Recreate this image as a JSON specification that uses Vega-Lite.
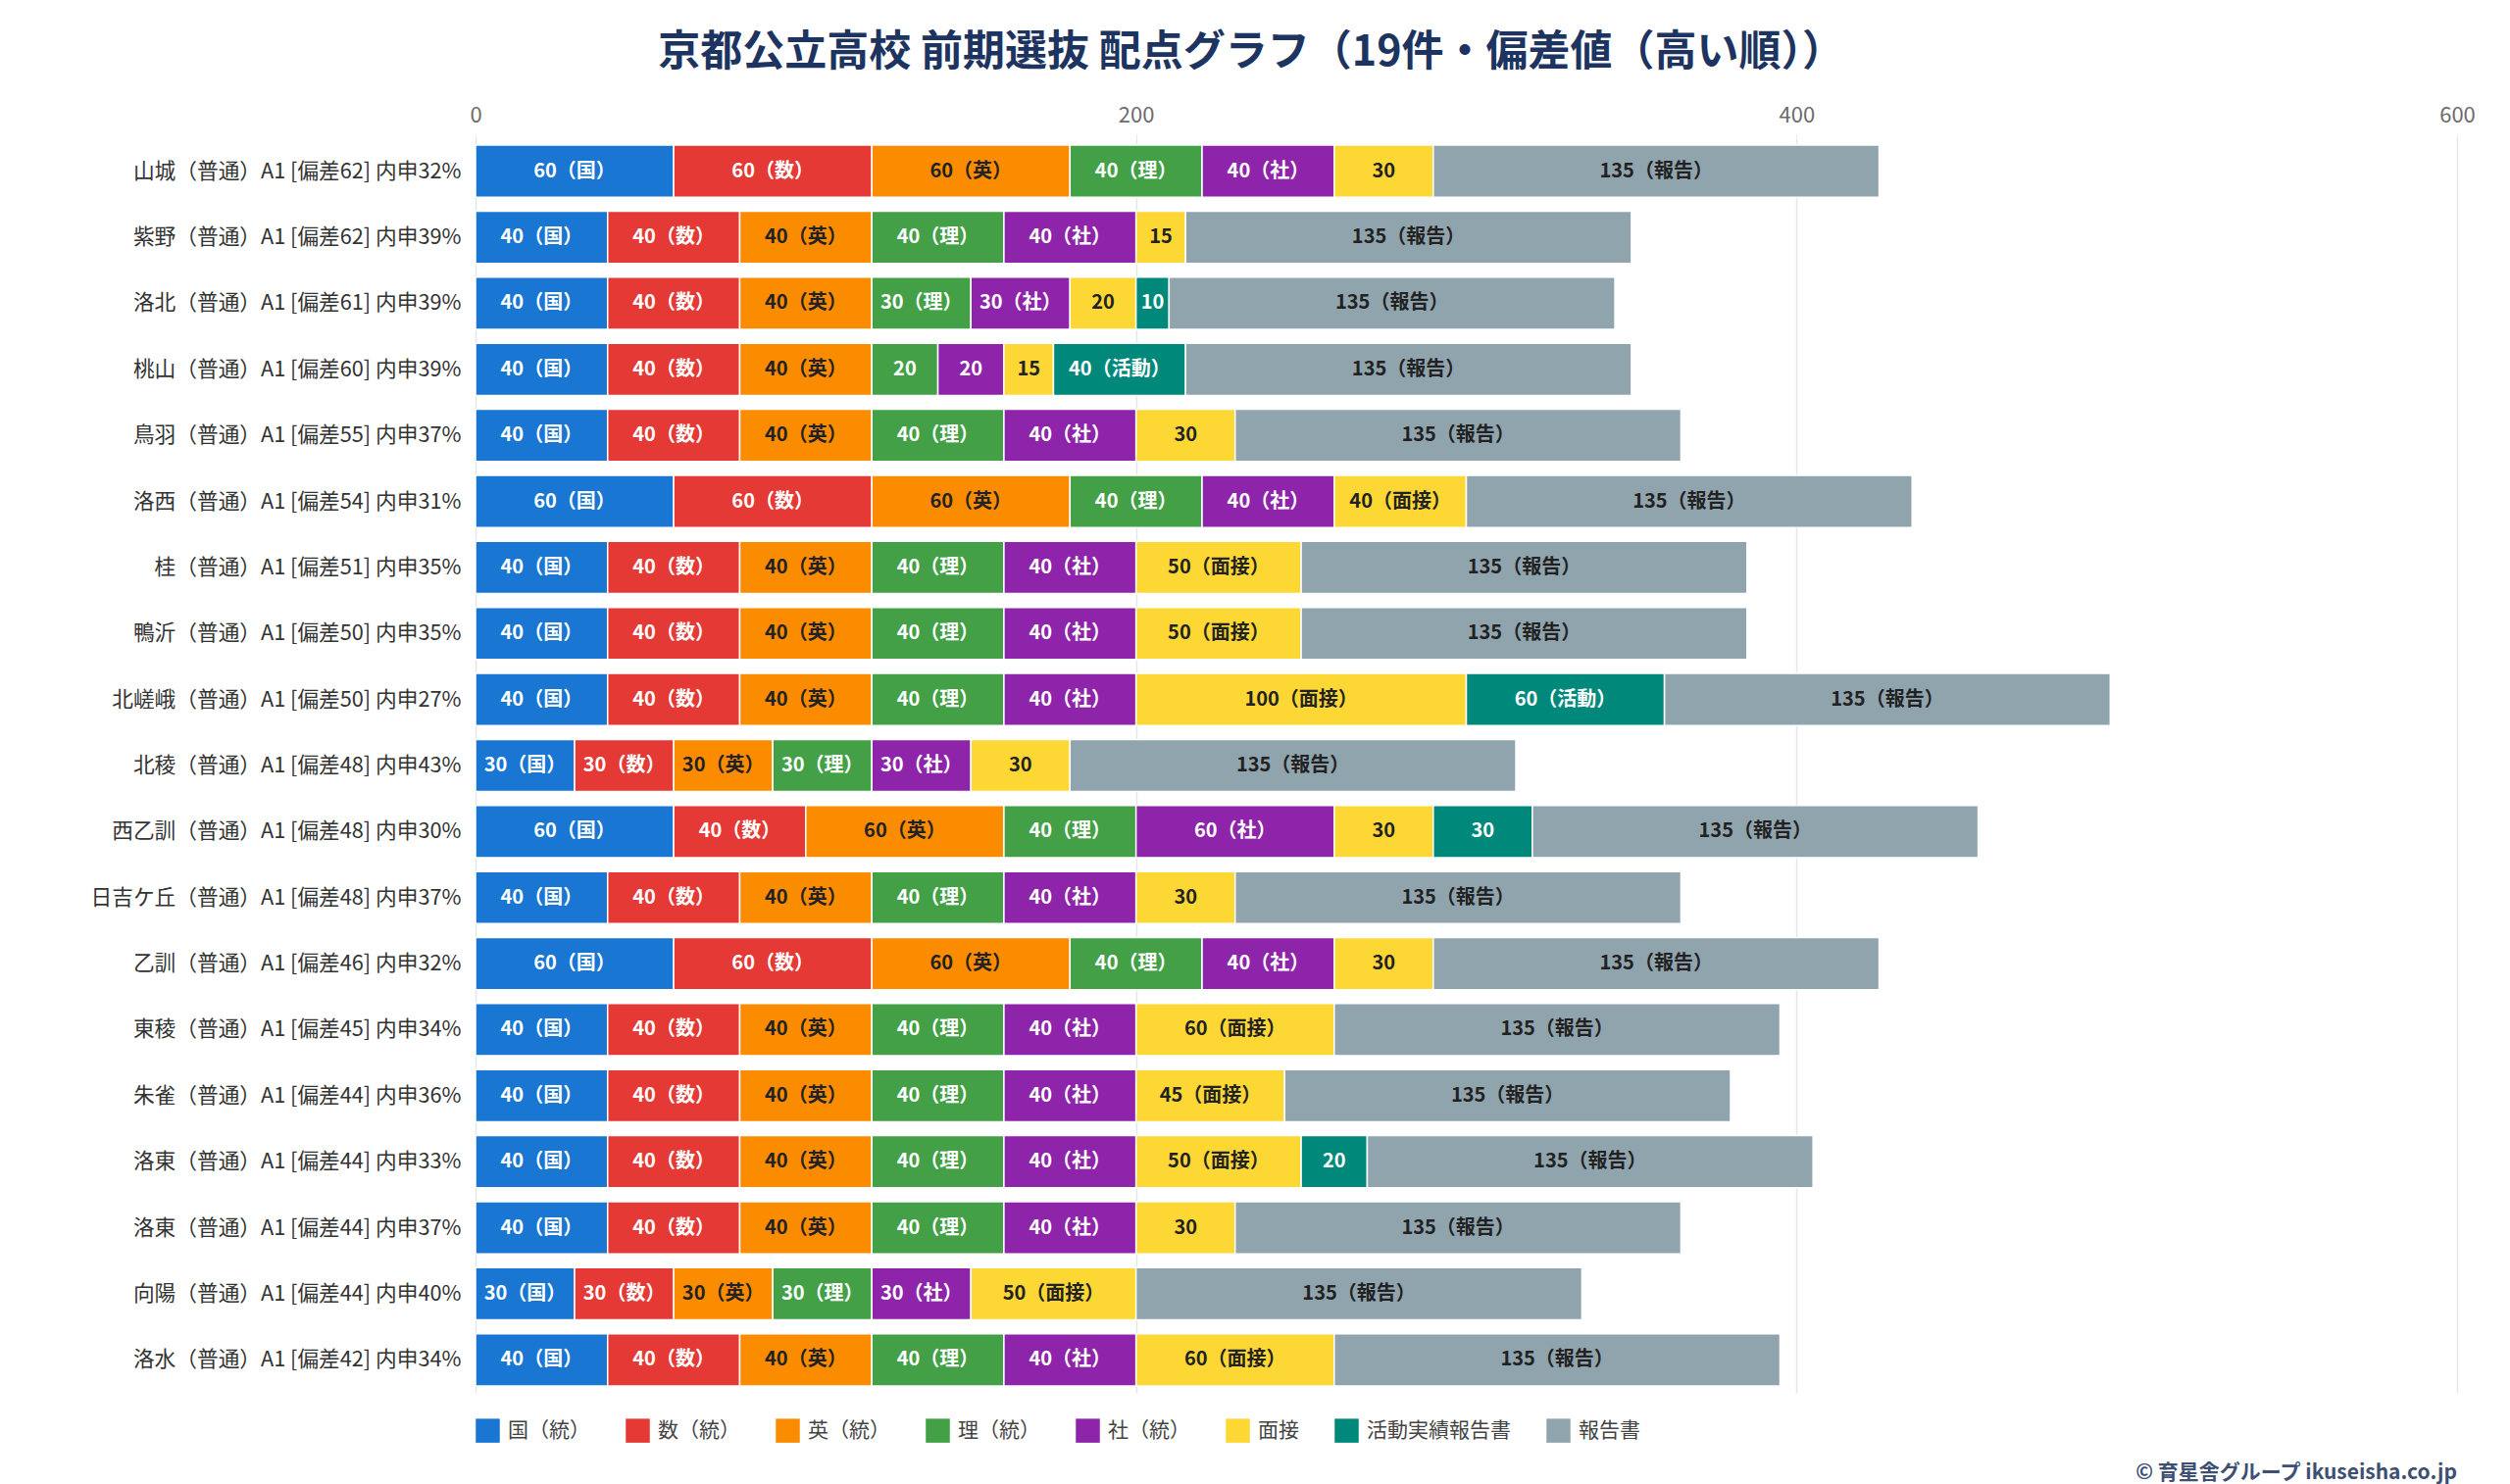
{
  "$schema": "https://vega.github.io/schema/vega-lite/v6.json",
  "background": "white",
  "padding": {"left": 0, "top": 33, "right": 50, "bottom": 5},
  "config": {
    "font": "Noto Sans CJK JP",
    "view": {"stroke": null},
    "concat": {"spacing": 0}
  },
  "title": {
    "text": "京都公立高校 前期選抜 配点グラフ（19件・偏差値（高い順））",
    "fontSize": 43,
    "fontWeight": "bold",
    "color": "#1d3461",
    "anchor": "middle",
    "frame": "bounds",
    "dx": 14,
    "offset": 30
  },
  "resolve": {"legend": {"color": "independent"}},
  "vconcat": [
    {
      "width": 2021,
      "height": 1280,
      "title": {
        "text": "© 育星舎グループ ikuseisha.co.jp",
        "orient": "bottom",
        "anchor": "end",
        "frame": "group",
        "fontSize": 21,
        "fontWeight": "bold",
        "color": "#3d4f73",
        "offset": 20
      },
      "data": {
        "values": [
          {"s": "山城（普通）A1 [偏差62] 内申32%", "c": "国（統）", "o": 1, "v": 60, "t": "60（国）"},
          {"s": "山城（普通）A1 [偏差62] 内申32%", "c": "数（統）", "o": 2, "v": 60, "t": "60（数）"},
          {"s": "山城（普通）A1 [偏差62] 内申32%", "c": "英（統）", "o": 3, "v": 60, "t": "60（英）"},
          {"s": "山城（普通）A1 [偏差62] 内申32%", "c": "理（統）", "o": 4, "v": 40, "t": "40（理）"},
          {"s": "山城（普通）A1 [偏差62] 内申32%", "c": "社（統）", "o": 5, "v": 40, "t": "40（社）"},
          {"s": "山城（普通）A1 [偏差62] 内申32%", "c": "面接", "o": 6, "v": 30, "t": "30"},
          {"s": "山城（普通）A1 [偏差62] 内申32%", "c": "報告書", "o": 8, "v": 135, "t": "135（報告）"},

          {"s": "紫野（普通）A1 [偏差62] 内申39%", "c": "国（統）", "o": 1, "v": 40, "t": "40（国）"},
          {"s": "紫野（普通）A1 [偏差62] 内申39%", "c": "数（統）", "o": 2, "v": 40, "t": "40（数）"},
          {"s": "紫野（普通）A1 [偏差62] 内申39%", "c": "英（統）", "o": 3, "v": 40, "t": "40（英）"},
          {"s": "紫野（普通）A1 [偏差62] 内申39%", "c": "理（統）", "o": 4, "v": 40, "t": "40（理）"},
          {"s": "紫野（普通）A1 [偏差62] 内申39%", "c": "社（統）", "o": 5, "v": 40, "t": "40（社）"},
          {"s": "紫野（普通）A1 [偏差62] 内申39%", "c": "面接", "o": 6, "v": 15, "t": "15"},
          {"s": "紫野（普通）A1 [偏差62] 内申39%", "c": "報告書", "o": 8, "v": 135, "t": "135（報告）"},

          {"s": "洛北（普通）A1 [偏差61] 内申39%", "c": "国（統）", "o": 1, "v": 40, "t": "40（国）"},
          {"s": "洛北（普通）A1 [偏差61] 内申39%", "c": "数（統）", "o": 2, "v": 40, "t": "40（数）"},
          {"s": "洛北（普通）A1 [偏差61] 内申39%", "c": "英（統）", "o": 3, "v": 40, "t": "40（英）"},
          {"s": "洛北（普通）A1 [偏差61] 内申39%", "c": "理（統）", "o": 4, "v": 30, "t": "30（理）"},
          {"s": "洛北（普通）A1 [偏差61] 内申39%", "c": "社（統）", "o": 5, "v": 30, "t": "30（社）"},
          {"s": "洛北（普通）A1 [偏差61] 内申39%", "c": "面接", "o": 6, "v": 20, "t": "20"},
          {"s": "洛北（普通）A1 [偏差61] 内申39%", "c": "活動実績報告書", "o": 7, "v": 10, "t": "10"},
          {"s": "洛北（普通）A1 [偏差61] 内申39%", "c": "報告書", "o": 8, "v": 135, "t": "135（報告）"},

          {"s": "桃山（普通）A1 [偏差60] 内申39%", "c": "国（統）", "o": 1, "v": 40, "t": "40（国）"},
          {"s": "桃山（普通）A1 [偏差60] 内申39%", "c": "数（統）", "o": 2, "v": 40, "t": "40（数）"},
          {"s": "桃山（普通）A1 [偏差60] 内申39%", "c": "英（統）", "o": 3, "v": 40, "t": "40（英）"},
          {"s": "桃山（普通）A1 [偏差60] 内申39%", "c": "理（統）", "o": 4, "v": 20, "t": "20"},
          {"s": "桃山（普通）A1 [偏差60] 内申39%", "c": "社（統）", "o": 5, "v": 20, "t": "20"},
          {"s": "桃山（普通）A1 [偏差60] 内申39%", "c": "面接", "o": 6, "v": 15, "t": "15"},
          {"s": "桃山（普通）A1 [偏差60] 内申39%", "c": "活動実績報告書", "o": 7, "v": 40, "t": "40（活動）"},
          {"s": "桃山（普通）A1 [偏差60] 内申39%", "c": "報告書", "o": 8, "v": 135, "t": "135（報告）"},

          {"s": "鳥羽（普通）A1 [偏差55] 内申37%", "c": "国（統）", "o": 1, "v": 40, "t": "40（国）"},
          {"s": "鳥羽（普通）A1 [偏差55] 内申37%", "c": "数（統）", "o": 2, "v": 40, "t": "40（数）"},
          {"s": "鳥羽（普通）A1 [偏差55] 内申37%", "c": "英（統）", "o": 3, "v": 40, "t": "40（英）"},
          {"s": "鳥羽（普通）A1 [偏差55] 内申37%", "c": "理（統）", "o": 4, "v": 40, "t": "40（理）"},
          {"s": "鳥羽（普通）A1 [偏差55] 内申37%", "c": "社（統）", "o": 5, "v": 40, "t": "40（社）"},
          {"s": "鳥羽（普通）A1 [偏差55] 内申37%", "c": "面接", "o": 6, "v": 30, "t": "30"},
          {"s": "鳥羽（普通）A1 [偏差55] 内申37%", "c": "報告書", "o": 8, "v": 135, "t": "135（報告）"},

          {"s": "洛西（普通）A1 [偏差54] 内申31%", "c": "国（統）", "o": 1, "v": 60, "t": "60（国）"},
          {"s": "洛西（普通）A1 [偏差54] 内申31%", "c": "数（統）", "o": 2, "v": 60, "t": "60（数）"},
          {"s": "洛西（普通）A1 [偏差54] 内申31%", "c": "英（統）", "o": 3, "v": 60, "t": "60（英）"},
          {"s": "洛西（普通）A1 [偏差54] 内申31%", "c": "理（統）", "o": 4, "v": 40, "t": "40（理）"},
          {"s": "洛西（普通）A1 [偏差54] 内申31%", "c": "社（統）", "o": 5, "v": 40, "t": "40（社）"},
          {"s": "洛西（普通）A1 [偏差54] 内申31%", "c": "面接", "o": 6, "v": 40, "t": "40（面接）"},
          {"s": "洛西（普通）A1 [偏差54] 内申31%", "c": "報告書", "o": 8, "v": 135, "t": "135（報告）"},

          {"s": "桂（普通）A1 [偏差51] 内申35%", "c": "国（統）", "o": 1, "v": 40, "t": "40（国）"},
          {"s": "桂（普通）A1 [偏差51] 内申35%", "c": "数（統）", "o": 2, "v": 40, "t": "40（数）"},
          {"s": "桂（普通）A1 [偏差51] 内申35%", "c": "英（統）", "o": 3, "v": 40, "t": "40（英）"},
          {"s": "桂（普通）A1 [偏差51] 内申35%", "c": "理（統）", "o": 4, "v": 40, "t": "40（理）"},
          {"s": "桂（普通）A1 [偏差51] 内申35%", "c": "社（統）", "o": 5, "v": 40, "t": "40（社）"},
          {"s": "桂（普通）A1 [偏差51] 内申35%", "c": "面接", "o": 6, "v": 50, "t": "50（面接）"},
          {"s": "桂（普通）A1 [偏差51] 内申35%", "c": "報告書", "o": 8, "v": 135, "t": "135（報告）"},

          {"s": "鴨沂（普通）A1 [偏差50] 内申35%", "c": "国（統）", "o": 1, "v": 40, "t": "40（国）"},
          {"s": "鴨沂（普通）A1 [偏差50] 内申35%", "c": "数（統）", "o": 2, "v": 40, "t": "40（数）"},
          {"s": "鴨沂（普通）A1 [偏差50] 内申35%", "c": "英（統）", "o": 3, "v": 40, "t": "40（英）"},
          {"s": "鴨沂（普通）A1 [偏差50] 内申35%", "c": "理（統）", "o": 4, "v": 40, "t": "40（理）"},
          {"s": "鴨沂（普通）A1 [偏差50] 内申35%", "c": "社（統）", "o": 5, "v": 40, "t": "40（社）"},
          {"s": "鴨沂（普通）A1 [偏差50] 内申35%", "c": "面接", "o": 6, "v": 50, "t": "50（面接）"},
          {"s": "鴨沂（普通）A1 [偏差50] 内申35%", "c": "報告書", "o": 8, "v": 135, "t": "135（報告）"},

          {"s": "北嵯峨（普通）A1 [偏差50] 内申27%", "c": "国（統）", "o": 1, "v": 40, "t": "40（国）"},
          {"s": "北嵯峨（普通）A1 [偏差50] 内申27%", "c": "数（統）", "o": 2, "v": 40, "t": "40（数）"},
          {"s": "北嵯峨（普通）A1 [偏差50] 内申27%", "c": "英（統）", "o": 3, "v": 40, "t": "40（英）"},
          {"s": "北嵯峨（普通）A1 [偏差50] 内申27%", "c": "理（統）", "o": 4, "v": 40, "t": "40（理）"},
          {"s": "北嵯峨（普通）A1 [偏差50] 内申27%", "c": "社（統）", "o": 5, "v": 40, "t": "40（社）"},
          {"s": "北嵯峨（普通）A1 [偏差50] 内申27%", "c": "面接", "o": 6, "v": 100, "t": "100（面接）"},
          {"s": "北嵯峨（普通）A1 [偏差50] 内申27%", "c": "活動実績報告書", "o": 7, "v": 60, "t": "60（活動）"},
          {"s": "北嵯峨（普通）A1 [偏差50] 内申27%", "c": "報告書", "o": 8, "v": 135, "t": "135（報告）"},

          {"s": "北稜（普通）A1 [偏差48] 内申43%", "c": "国（統）", "o": 1, "v": 30, "t": "30（国）"},
          {"s": "北稜（普通）A1 [偏差48] 内申43%", "c": "数（統）", "o": 2, "v": 30, "t": "30（数）"},
          {"s": "北稜（普通）A1 [偏差48] 内申43%", "c": "英（統）", "o": 3, "v": 30, "t": "30（英）"},
          {"s": "北稜（普通）A1 [偏差48] 内申43%", "c": "理（統）", "o": 4, "v": 30, "t": "30（理）"},
          {"s": "北稜（普通）A1 [偏差48] 内申43%", "c": "社（統）", "o": 5, "v": 30, "t": "30（社）"},
          {"s": "北稜（普通）A1 [偏差48] 内申43%", "c": "面接", "o": 6, "v": 30, "t": "30"},
          {"s": "北稜（普通）A1 [偏差48] 内申43%", "c": "報告書", "o": 8, "v": 135, "t": "135（報告）"},

          {"s": "西乙訓（普通）A1 [偏差48] 内申30%", "c": "国（統）", "o": 1, "v": 60, "t": "60（国）"},
          {"s": "西乙訓（普通）A1 [偏差48] 内申30%", "c": "数（統）", "o": 2, "v": 40, "t": "40（数）"},
          {"s": "西乙訓（普通）A1 [偏差48] 内申30%", "c": "英（統）", "o": 3, "v": 60, "t": "60（英）"},
          {"s": "西乙訓（普通）A1 [偏差48] 内申30%", "c": "理（統）", "o": 4, "v": 40, "t": "40（理）"},
          {"s": "西乙訓（普通）A1 [偏差48] 内申30%", "c": "社（統）", "o": 5, "v": 60, "t": "60（社）"},
          {"s": "西乙訓（普通）A1 [偏差48] 内申30%", "c": "面接", "o": 6, "v": 30, "t": "30"},
          {"s": "西乙訓（普通）A1 [偏差48] 内申30%", "c": "活動実績報告書", "o": 7, "v": 30, "t": "30"},
          {"s": "西乙訓（普通）A1 [偏差48] 内申30%", "c": "報告書", "o": 8, "v": 135, "t": "135（報告）"},

          {"s": "日吉ケ丘（普通）A1 [偏差48] 内申37%", "c": "国（統）", "o": 1, "v": 40, "t": "40（国）"},
          {"s": "日吉ケ丘（普通）A1 [偏差48] 内申37%", "c": "数（統）", "o": 2, "v": 40, "t": "40（数）"},
          {"s": "日吉ケ丘（普通）A1 [偏差48] 内申37%", "c": "英（統）", "o": 3, "v": 40, "t": "40（英）"},
          {"s": "日吉ケ丘（普通）A1 [偏差48] 内申37%", "c": "理（統）", "o": 4, "v": 40, "t": "40（理）"},
          {"s": "日吉ケ丘（普通）A1 [偏差48] 内申37%", "c": "社（統）", "o": 5, "v": 40, "t": "40（社）"},
          {"s": "日吉ケ丘（普通）A1 [偏差48] 内申37%", "c": "面接", "o": 6, "v": 30, "t": "30"},
          {"s": "日吉ケ丘（普通）A1 [偏差48] 内申37%", "c": "報告書", "o": 8, "v": 135, "t": "135（報告）"},

          {"s": "乙訓（普通）A1 [偏差46] 内申32%", "c": "国（統）", "o": 1, "v": 60, "t": "60（国）"},
          {"s": "乙訓（普通）A1 [偏差46] 内申32%", "c": "数（統）", "o": 2, "v": 60, "t": "60（数）"},
          {"s": "乙訓（普通）A1 [偏差46] 内申32%", "c": "英（統）", "o": 3, "v": 60, "t": "60（英）"},
          {"s": "乙訓（普通）A1 [偏差46] 内申32%", "c": "理（統）", "o": 4, "v": 40, "t": "40（理）"},
          {"s": "乙訓（普通）A1 [偏差46] 内申32%", "c": "社（統）", "o": 5, "v": 40, "t": "40（社）"},
          {"s": "乙訓（普通）A1 [偏差46] 内申32%", "c": "面接", "o": 6, "v": 30, "t": "30"},
          {"s": "乙訓（普通）A1 [偏差46] 内申32%", "c": "報告書", "o": 8, "v": 135, "t": "135（報告）"},

          {"s": "東稜（普通）A1 [偏差45] 内申34%", "c": "国（統）", "o": 1, "v": 40, "t": "40（国）"},
          {"s": "東稜（普通）A1 [偏差45] 内申34%", "c": "数（統）", "o": 2, "v": 40, "t": "40（数）"},
          {"s": "東稜（普通）A1 [偏差45] 内申34%", "c": "英（統）", "o": 3, "v": 40, "t": "40（英）"},
          {"s": "東稜（普通）A1 [偏差45] 内申34%", "c": "理（統）", "o": 4, "v": 40, "t": "40（理）"},
          {"s": "東稜（普通）A1 [偏差45] 内申34%", "c": "社（統）", "o": 5, "v": 40, "t": "40（社）"},
          {"s": "東稜（普通）A1 [偏差45] 内申34%", "c": "面接", "o": 6, "v": 60, "t": "60（面接）"},
          {"s": "東稜（普通）A1 [偏差45] 内申34%", "c": "報告書", "o": 8, "v": 135, "t": "135（報告）"},

          {"s": "朱雀（普通）A1 [偏差44] 内申36%", "c": "国（統）", "o": 1, "v": 40, "t": "40（国）"},
          {"s": "朱雀（普通）A1 [偏差44] 内申36%", "c": "数（統）", "o": 2, "v": 40, "t": "40（数）"},
          {"s": "朱雀（普通）A1 [偏差44] 内申36%", "c": "英（統）", "o": 3, "v": 40, "t": "40（英）"},
          {"s": "朱雀（普通）A1 [偏差44] 内申36%", "c": "理（統）", "o": 4, "v": 40, "t": "40（理）"},
          {"s": "朱雀（普通）A1 [偏差44] 内申36%", "c": "社（統）", "o": 5, "v": 40, "t": "40（社）"},
          {"s": "朱雀（普通）A1 [偏差44] 内申36%", "c": "面接", "o": 6, "v": 45, "t": "45（面接）"},
          {"s": "朱雀（普通）A1 [偏差44] 内申36%", "c": "報告書", "o": 8, "v": 135, "t": "135（報告）"},

          {"s": "洛東（普通）A1 [偏差44] 内申33%", "c": "国（統）", "o": 1, "v": 40, "t": "40（国）"},
          {"s": "洛東（普通）A1 [偏差44] 内申33%", "c": "数（統）", "o": 2, "v": 40, "t": "40（数）"},
          {"s": "洛東（普通）A1 [偏差44] 内申33%", "c": "英（統）", "o": 3, "v": 40, "t": "40（英）"},
          {"s": "洛東（普通）A1 [偏差44] 内申33%", "c": "理（統）", "o": 4, "v": 40, "t": "40（理）"},
          {"s": "洛東（普通）A1 [偏差44] 内申33%", "c": "社（統）", "o": 5, "v": 40, "t": "40（社）"},
          {"s": "洛東（普通）A1 [偏差44] 内申33%", "c": "面接", "o": 6, "v": 50, "t": "50（面接）"},
          {"s": "洛東（普通）A1 [偏差44] 内申33%", "c": "活動実績報告書", "o": 7, "v": 20, "t": "20"},
          {"s": "洛東（普通）A1 [偏差44] 内申33%", "c": "報告書", "o": 8, "v": 135, "t": "135（報告）"},

          {"s": "洛東（普通）A1 [偏差44] 内申37%", "c": "国（統）", "o": 1, "v": 40, "t": "40（国）"},
          {"s": "洛東（普通）A1 [偏差44] 内申37%", "c": "数（統）", "o": 2, "v": 40, "t": "40（数）"},
          {"s": "洛東（普通）A1 [偏差44] 内申37%", "c": "英（統）", "o": 3, "v": 40, "t": "40（英）"},
          {"s": "洛東（普通）A1 [偏差44] 内申37%", "c": "理（統）", "o": 4, "v": 40, "t": "40（理）"},
          {"s": "洛東（普通）A1 [偏差44] 内申37%", "c": "社（統）", "o": 5, "v": 40, "t": "40（社）"},
          {"s": "洛東（普通）A1 [偏差44] 内申37%", "c": "面接", "o": 6, "v": 30, "t": "30"},
          {"s": "洛東（普通）A1 [偏差44] 内申37%", "c": "報告書", "o": 8, "v": 135, "t": "135（報告）"},

          {"s": "向陽（普通）A1 [偏差44] 内申40%", "c": "国（統）", "o": 1, "v": 30, "t": "30（国）"},
          {"s": "向陽（普通）A1 [偏差44] 内申40%", "c": "数（統）", "o": 2, "v": 30, "t": "30（数）"},
          {"s": "向陽（普通）A1 [偏差44] 内申40%", "c": "英（統）", "o": 3, "v": 30, "t": "30（英）"},
          {"s": "向陽（普通）A1 [偏差44] 内申40%", "c": "理（統）", "o": 4, "v": 30, "t": "30（理）"},
          {"s": "向陽（普通）A1 [偏差44] 内申40%", "c": "社（統）", "o": 5, "v": 30, "t": "30（社）"},
          {"s": "向陽（普通）A1 [偏差44] 内申40%", "c": "面接", "o": 6, "v": 50, "t": "50（面接）"},
          {"s": "向陽（普通）A1 [偏差44] 内申40%", "c": "報告書", "o": 8, "v": 135, "t": "135（報告）"},

          {"s": "洛水（普通）A1 [偏差42] 内申34%", "c": "国（統）", "o": 1, "v": 40, "t": "40（国）"},
          {"s": "洛水（普通）A1 [偏差42] 内申34%", "c": "数（統）", "o": 2, "v": 40, "t": "40（数）"},
          {"s": "洛水（普通）A1 [偏差42] 内申34%", "c": "英（統）", "o": 3, "v": 40, "t": "40（英）"},
          {"s": "洛水（普通）A1 [偏差42] 内申34%", "c": "理（統）", "o": 4, "v": 40, "t": "40（理）"},
          {"s": "洛水（普通）A1 [偏差42] 内申34%", "c": "社（統）", "o": 5, "v": 40, "t": "40（社）"},
          {"s": "洛水（普通）A1 [偏差42] 内申34%", "c": "面接", "o": 6, "v": 60, "t": "60（面接）"},
          {"s": "洛水（普通）A1 [偏差42] 内申34%", "c": "報告書", "o": 8, "v": 135, "t": "135（報告）"}
        ]
      },
      "encoding": {
        "y": {
          "field": "s",
          "type": "nominal",
          "sort": null,
          "scale": {"paddingInner": 0.21, "paddingOuter": 0.105},
          "axis": {
            "title": null,
            "ticks": false,
            "domain": false,
            "grid": false,
            "labelFontSize": 21.7,
            "labelColor": "#333333",
            "labelPadding": 15,
            "minExtent": 485,
            "labelLimit": 600
          }
        },
        "x": {
          "field": "v",
          "type": "quantitative",
          "stack": "zero",
          "scale": {"domain": [0, 600], "nice": false},
          "axis": {
            "orient": "top",
            "title": null,
            "values": [0, 200, 400, 600],
            "domain": false,
            "ticks": true,
            "tickSize": 4,
            "tickColor": "#e4e6ea",
            "grid": true,
            "gridColor": "#e4e6ea",
            "gridWidth": 1.5,
            "labelFontSize": 22,
            "labelColor": "#6b6b6b",
            "labelPadding": 8,
            "labelFlush": false,
            "labelOverlap": false
          }
        },
        "order": {"field": "o", "type": "quantitative"}
      },
      "layer": [
        {
          "mark": {"type": "bar", "stroke": "white", "strokeWidth": 1.5},
          "encoding": {
            "color": {
              "field": "c",
              "type": "nominal",
              "scale": {
                "domain": ["国（統）", "数（統）", "英（統）", "理（統）", "社（統）", "面接", "活動実績報告書", "報告書"],
                "range": ["#1976d2", "#e53935", "#fb8c00", "#43a047", "#8e24aa", "#fdd835", "#00897b", "#90a4ae"]
              },
              "legend": {
                "title": null,
                "orient": "bottom",
                "direction": "horizontal",
                "symbolType": "square",
                "symbolSize": 600,
                "symbolStrokeWidth": 0,
                "labelFontSize": 21,
                "labelColor": "#444444",
                "labelOffset": 8,
                "columnPadding": 36,
                "offset": 26
              }
            }
          }
        },
        {
          "mark": {"type": "text", "fontSize": 20, "fontWeight": "bold", "baseline": "middle", "align": "center"},
          "encoding": {
            "x": {"field": "v", "type": "quantitative", "stack": "zero", "bandPosition": 0.5},
            "detail": {"field": "c", "type": "nominal"},
            "text": {"field": "t", "type": "nominal"},
            "color": {
              "condition": {
                "test": "datum.c === '英（統）' || datum.c === '面接' || datum.c === '報告書'",
                "value": "#222222"
              },
              "value": "#ffffff"
            }
          }
        }
      ]
    }
  ]
}
